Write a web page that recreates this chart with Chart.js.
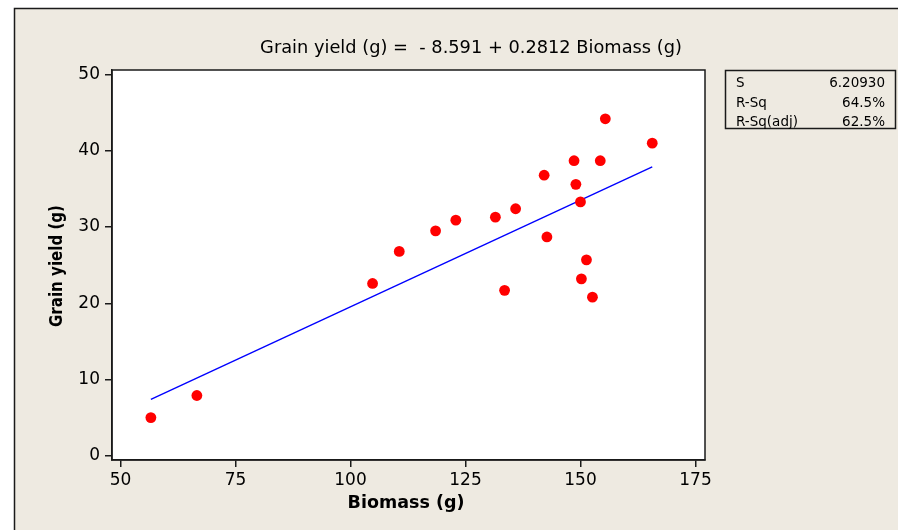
<!DOCTYPE html>
<html>
<head>
<meta charset="utf-8">
<script src="https://cdn.jsdelivr.net/npm/chart.js@4"></script>
<style>
  html, body { margin: 0; padding: 0; background: #ffffff; }
  #wrap { width: 898px; height: 530px; }
</style>
</head>
<body>
<div id="wrap"><canvas id="c" width="898" height="530"></canvas></div>
<script>
// ---- data ----
const biomass = [56.6, 66.6, 104.8, 110.6, 118.5, 122.9, 131.5, 133.5, 135.9, 142.1,
                 142.7, 148.6, 149.0, 150.0, 150.2, 151.3, 152.6, 154.3, 155.4, 165.6];
const grainYield = [5.0, 7.9, 22.6, 26.8, 29.5, 30.9, 31.3, 21.7, 32.4, 36.8,
                    28.7, 38.7, 35.6, 33.3, 23.2, 25.7, 20.8, 38.7, 44.2, 41.0];
const fitX = [56.6, 165.6];
const fitY = [7.4, 37.9];
const xTicks = [50, 75, 100, 125, 150, 175];
const yTicks = [0, 10, 20, 30, 40, 50];
const titleText = 'Grain yield (g) =  - 8.591 + 0.2812 Biomass (g)';
const xTitle = 'Biomass (g)';
const yTitle = 'Grain yield (g)';
const statLabels = ['S', 'R-Sq', 'R-Sq(adj)'];
const statValues = ['6.20930', '64.5%', '62.5%'];

const BG = '#EEEAE1';
const INK = '#1a1a1a';
const FONT = "'DejaVu Sans', Verdana, sans-serif";

const scatterData = biomass.map((x, i) => ({ x: x, y: grainYield[i] }));
const lineData = fitX.map((x, i) => ({ x: x, y: fitY[i] }));

const framePlugin = {
  id: 'frame',
  beforeDraw(chart) {
    const ctx = chart.ctx, a = chart.chartArea;
    ctx.save();
    ctx.fillStyle = '#ffffff';
    ctx.fillRect(0, 0, chart.width, chart.height);
    ctx.fillStyle = BG;
    ctx.fillRect(14, 8, chart.width - 14, chart.height - 8);
    ctx.strokeStyle = INK;
    ctx.lineWidth = 1.5;
    ctx.beginPath();
    ctx.moveTo(14.5, chart.height);
    ctx.lineTo(14.5, 8.5);
    ctx.lineTo(chart.width, 8.5);
    ctx.stroke();
    ctx.fillStyle = '#ffffff';
    ctx.fillRect(a.left, a.top, a.right - a.left, a.bottom - a.top);
    ctx.restore();
  },
  afterDraw(chart) {
    const ctx = chart.ctx, a = chart.chartArea;
    ctx.save();
    ctx.strokeStyle = INK;
    ctx.lineWidth = 1.5;
    ctx.strokeRect(a.left, a.top, a.right - a.left, a.bottom - a.top);
    ctx.fillStyle = '#000';
    ctx.font = "17.8px " + FONT;
    ctx.textAlign = 'center';
    ctx.textBaseline = 'alphabetic';
    ctx.fillText(titleText, 471, 53);
    ctx.font = "bold 17.5px " + FONT;
    ctx.fillText(xTitle, 406, 508);
    ctx.save();
    ctx.translate(62, 266);
    ctx.rotate(-Math.PI / 2);
    ctx.font = "bold 17px " + FONT;
    ctx.fillText(yTitle, 0, 0, 122);
    ctx.restore();
    ctx.lineWidth = 1.5;
    ctx.strokeRect(725.5, 70.5, 170, 58);
    ctx.font = "13.5px " + FONT;
    const base = [86.7, 106.5, 125.7];
    for (let i = 0; i < statLabels.length; i++) {
      ctx.textAlign = 'left';
      ctx.fillText(statLabels[i], 736, base[i]);
      ctx.textAlign = 'right';
      ctx.fillText(statValues[i], 885, base[i]);
    }
    ctx.restore();
  }
};

new Chart(document.getElementById('c'), {
  data: {
    datasets: [
      {
        type: 'scatter',
        data: scatterData,
        backgroundColor: '#ff0000',
        borderColor: '#ff0000',
        borderWidth: 0,
        pointRadius: 5.4,
        pointHoverRadius: 5.4,
        order: 1
      },
      {
        type: 'line',
        data: lineData,
        borderColor: '#0000ff',
        borderWidth: 1.4,
        pointRadius: 0,
        fill: false,
        tension: 0,
        order: 2
      }
    ]
  },
  options: {
    responsive: false,
    animation: false,
    devicePixelRatio: 1,
    layout: { padding: { top: 70, right: 193, bottom: 0, left: 0 } },
    plugins: {
      legend: { display: false },
      title: { display: false },
      tooltip: { enabled: false }
    },
    scales: {
      x: {
        type: 'linear',
        position: 'bottom',
        min: 48.15,
        max: 177.07,
        afterBuildTicks: s => { s.ticks = xTicks.map(v => ({ value: v })); },
        afterFit: s => { s.height = 70; },
        grid: { drawOnChartArea: false, drawTicks: true, tickLength: 7, color: INK, lineWidth: 1.5 },
        border: { display: true, color: INK, width: 1.5 },
        ticks: { font: { family: FONT, size: 17 }, color: '#000', padding: 3, maxRotation: 0, autoSkip: false }
      },
      y: {
        type: 'linear',
        position: 'left',
        min: -0.56,
        max: 50.6,
        afterBuildTicks: s => { s.ticks = yTicks.map(v => ({ value: v })); },
        afterFit: s => { s.width = 112; },
        grid: { drawOnChartArea: false, drawTicks: true, tickLength: 7, color: INK, lineWidth: 1.5 },
        border: { display: true, color: INK, width: 1.5 },
        ticks: { font: { family: FONT, size: 17 }, color: '#000', padding: 5, autoSkip: false }
      }
    }
  },
  plugins: [framePlugin]
});
</script>
</body>
</html>
